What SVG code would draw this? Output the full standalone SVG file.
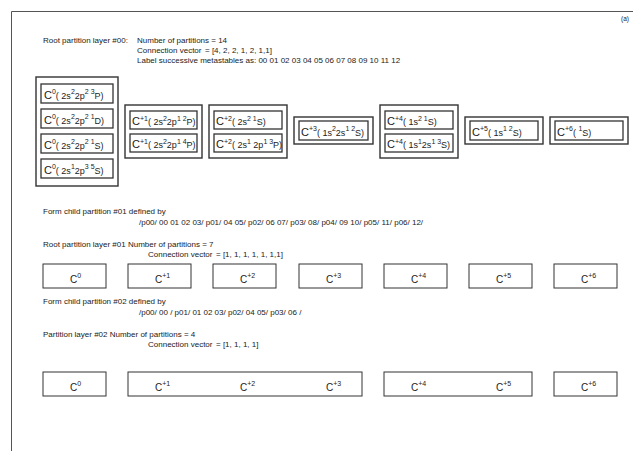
<svg xmlns="http://www.w3.org/2000/svg" width="633" height="451" viewBox="0 0 633 451">
<style>
text{font-family:"Liberation Sans",Arial,sans-serif;fill:#222}
.t{font-size:8px}
.lbl{font-size:11px}
.ll{font-size:10px}
.s{font-size:7px}
.sm{font-size:9px}
.outer{fill:none;stroke:#333;stroke-width:1.4}
.inner{fill:#fff;stroke:#333;stroke-width:1.3}
.box{fill:#fff;stroke:#333;stroke-width:1}
.frame{fill:none;stroke:#555;stroke-width:1}
</style>
<rect width="633" height="451" fill="#fff"/>
<g id="frame"><path class="frame" d="M11.5 451V11.5H633"/></g>
<text x="621" y="21" class="t" style="font-size:6.5px">(a)</text>

<g id="header0">
<text x="43" y="43" class="t">Root partition layer #00:</text>
<text x="137" y="43" class="t">Number of partitions = 14</text>
<text x="137" y="53" class="t">Connection vector</text>
<text x="205" y="53" class="t">= [4, 2, 2, 1, 2, 1,1]</text>
<text x="137" y="63" class="t">Label successive metastables as:  00 01 02 03 04 05 06 07 08 09 10 11 12</text>
</g>

<g id="p0">
<rect class="outer" x="36" y="77" width="82" height="109"/>
<rect class="inner" x="41" y="84" width="72" height="19"/>
<text x="44" y="98.5" class="lbl">C<tspan class="s" dy="-4.5">0</tspan><tspan class="sm" dy="4.5">( 2s</tspan><tspan class="s" dy="-4.5">2</tspan><tspan class="sm" dy="4.5">2p</tspan><tspan class="s" dy="-4.5">2 3</tspan><tspan class="sm" dy="4.5">P)</tspan></text>
<rect class="inner" x="41" y="109" width="72" height="19"/>
<text x="44" y="123.5" class="lbl">C<tspan class="s" dy="-4.5">0</tspan><tspan class="sm" dy="4.5">( 2s</tspan><tspan class="s" dy="-4.5">2</tspan><tspan class="sm" dy="4.5">2p</tspan><tspan class="s" dy="-4.5">2 1</tspan><tspan class="sm" dy="4.5">D)</tspan></text>
<rect class="inner" x="41" y="134" width="72" height="19"/>
<text x="44" y="148.5" class="lbl">C<tspan class="s" dy="-4.5">0</tspan><tspan class="sm" dy="4.5">( 2s</tspan><tspan class="s" dy="-4.5">2</tspan><tspan class="sm" dy="4.5">2p</tspan><tspan class="s" dy="-4.5">2 1</tspan><tspan class="sm" dy="4.5">S)</tspan></text>
<rect class="inner" x="41" y="159" width="72" height="19"/>
<text x="44" y="173.5" class="lbl">C<tspan class="s" dy="-4.5">0</tspan><tspan class="sm" dy="4.5">( 2s</tspan><tspan class="s" dy="-4.5">1</tspan><tspan class="sm" dy="4.5">2p</tspan><tspan class="s" dy="-4.5">3 5</tspan><tspan class="sm" dy="4.5">S)</tspan></text>
</g>

<g id="p1">
<rect class="outer" x="125" y="105" width="77" height="53"/>
<rect class="inner" x="130" y="111" width="67" height="18"/>
<text x="132" y="125" class="lbl">C<tspan class="s" dy="-4.5">+1</tspan><tspan class="sm" dy="4.5">( 2s</tspan><tspan class="s" dy="-4.5">2</tspan><tspan class="sm" dy="4.5">2p</tspan><tspan class="s" dy="-4.5">1 2</tspan><tspan class="sm" dy="4.5">P)</tspan></text>
<rect class="inner" x="130" y="134" width="67" height="18"/>
<text x="132" y="148" class="lbl">C<tspan class="s" dy="-4.5">+1</tspan><tspan class="sm" dy="4.5">( 2s</tspan><tspan class="s" dy="-4.5">2</tspan><tspan class="sm" dy="4.5">2p</tspan><tspan class="s" dy="-4.5">1 4</tspan><tspan class="sm" dy="4.5">P)</tspan></text>
</g>

<g id="p2">
<rect class="outer" x="209" y="105" width="78" height="53"/>
<rect class="inner" x="214" y="111" width="68" height="18"/>
<text x="216" y="125" class="lbl">C<tspan class="s" dy="-4.5">+2</tspan><tspan class="sm" dy="4.5">( 2s</tspan><tspan class="s" dy="-4.5">2 1</tspan><tspan class="sm" dy="4.5">S)</tspan></text>
<rect class="inner" x="214" y="134" width="68" height="18"/>
<text x="216" y="148" class="lbl">C<tspan class="s" dy="-4.5">+2</tspan><tspan class="sm" dy="4.5">( 2s</tspan><tspan class="s" dy="-4.5">1</tspan><tspan class="sm" dy="4.5"> 2p</tspan><tspan class="s" dy="-4.5">1 3</tspan><tspan class="sm" dy="4.5">P)</tspan></text>
</g>

<g id="p3">
<rect class="outer" x="294" y="117" width="79" height="27"/>
<rect class="inner" x="299" y="121" width="69" height="19"/>
<text x="301" y="135.5" class="lbl">C<tspan class="s" dy="-4.5">+3</tspan><tspan class="sm" dy="4.5">( 1s</tspan><tspan class="s" dy="-4.5">2</tspan><tspan class="sm" dy="4.5">2s</tspan><tspan class="s" dy="-4.5">1 2</tspan><tspan class="sm" dy="4.5">S)</tspan></text>
</g>

<g id="p4">
<rect class="outer" x="380" y="105" width="78" height="53"/>
<rect class="inner" x="385" y="111" width="68" height="18"/>
<text x="387" y="125" class="lbl">C<tspan class="s" dy="-4.5">+4</tspan><tspan class="sm" dy="4.5">( 1s</tspan><tspan class="s" dy="-4.5">2 1</tspan><tspan class="sm" dy="4.5">S)</tspan></text>
<rect class="inner" x="385" y="134" width="68" height="18"/>
<text x="387" y="148" class="lbl">C<tspan class="s" dy="-4.5">+4</tspan><tspan class="sm" dy="4.5">( 1s</tspan><tspan class="s" dy="-4.5">1</tspan><tspan class="sm" dy="4.5">2s</tspan><tspan class="s" dy="-4.5">1 3</tspan><tspan class="sm" dy="4.5">S)</tspan></text>
</g>

<g id="p5">
<rect class="outer" x="465" y="117" width="78" height="27"/>
<rect class="inner" x="470" y="121" width="68" height="19"/>
<text x="472" y="135.5" class="lbl">C<tspan class="s" dy="-4.5">+5</tspan><tspan class="sm" dy="4.5">( 1s</tspan><tspan class="s" dy="-4.5">1 2</tspan><tspan class="sm" dy="4.5">S)</tspan></text>
</g>

<g id="p6">
<rect class="outer" x="550" y="117" width="78" height="27"/>
<rect class="inner" x="555" y="121" width="68" height="19"/>
<text x="557" y="135.5" class="lbl">C<tspan class="s" dy="-4.5">+6</tspan><tspan class="sm" dy="4.5">(  </tspan><tspan class="s" dy="-4.5">1</tspan><tspan class="sm" dy="4.5">S)</tspan></text>
</g>

<g id="header1">
<text x="43" y="214" class="t">Form child partition #01 defined by</text>
<text x="139" y="225" class="t">/p00/ 00 01 02 03/ p01/ 04 05/ p02/ 06 07/ p03/ 08/ p04/ 09 10/ p05/ 11/ p06/ 12/</text>
<text x="43" y="247" class="t">Root partition layer #01 Number of partitions = 7</text>
<text x="148" y="257" class="t">Connection vector</text>
<text x="216" y="257" class="t">= [1, 1, 1, 1, 1, 1,1]</text>
</g>

<g id="l1">
<rect class="box" x="43" y="264" width="63" height="24"/><text x="70" y="283" class="ll">C<tspan class="s" dy="-5">0</tspan></text>
<rect class="box" x="128" y="264" width="63" height="24"/><text x="155" y="283" class="ll">C<tspan class="s" dy="-5">+1</tspan></text>
<rect class="box" x="213" y="264" width="63" height="24"/><text x="240" y="283" class="ll">C<tspan class="s" dy="-5">+2</tspan></text>
<rect class="box" x="299" y="264" width="63" height="24"/><text x="326" y="283" class="ll">C<tspan class="s" dy="-5">+3</tspan></text>
<rect class="box" x="384" y="264" width="63" height="24"/><text x="411" y="283" class="ll">C<tspan class="s" dy="-5">+4</tspan></text>
<rect class="box" x="469" y="264" width="63" height="24"/><text x="496" y="283" class="ll">C<tspan class="s" dy="-5">+5</tspan></text>
<rect class="box" x="554" y="264" width="63" height="24"/><text x="581" y="283" class="ll">C<tspan class="s" dy="-5">+6</tspan></text>
</g>

<g id="header2">
<text x="43" y="304" class="t">Form child partition #02 defined by</text>
<text x="139" y="315" class="t">/p00/ 00 / p01/ 01 02 03/ p02/ 04 05/ p03/ 06 /</text>
<text x="43" y="337" class="t">Partition layer #02 Number of partitions = 4</text>
<text x="148" y="347" class="t">Connection vector</text>
<text x="216" y="347" class="t">= [1, 1, 1, 1]</text>
</g>

<g id="l2">
<rect class="box" x="43" y="372" width="63" height="24"/><text x="70" y="391" class="ll">C<tspan class="s" dy="-5">0</tspan></text>
<rect class="box" x="128" y="372" width="234" height="24"/>
<text x="155" y="391" class="ll">C<tspan class="s" dy="-5">+1</tspan></text>
<text x="240" y="391" class="ll">C<tspan class="s" dy="-5">+2</tspan></text>
<text x="326" y="391" class="ll">C<tspan class="s" dy="-5">+3</tspan></text>
<rect class="box" x="384" y="372" width="148" height="24"/>
<text x="411" y="391" class="ll">C<tspan class="s" dy="-5">+4</tspan></text>
<text x="496" y="391" class="ll">C<tspan class="s" dy="-5">+5</tspan></text>
<rect class="box" x="554" y="372" width="63" height="24"/><text x="581" y="391" class="ll">C<tspan class="s" dy="-5">+6</tspan></text>
</g>
</svg>
